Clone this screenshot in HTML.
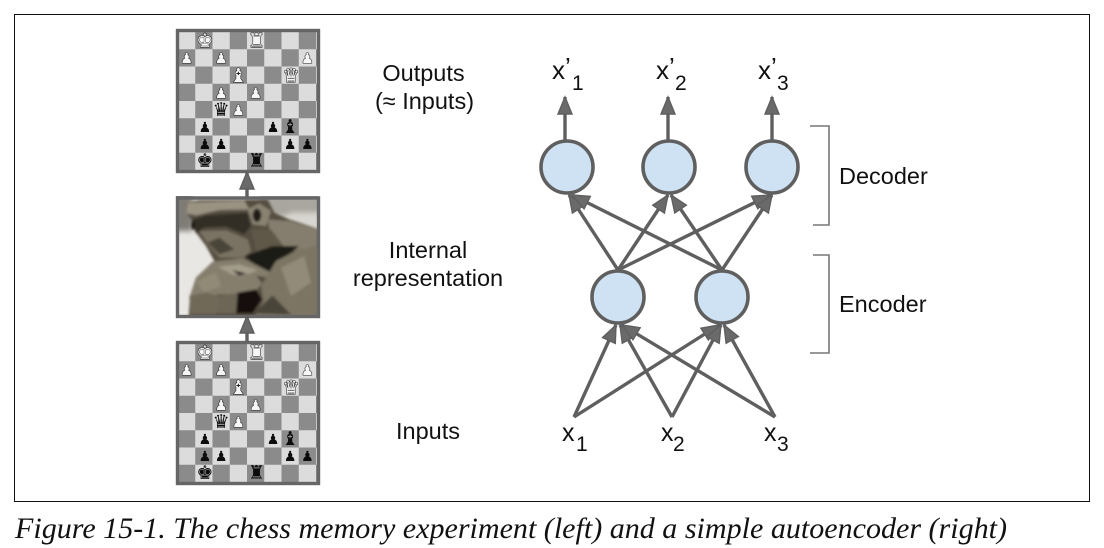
<!DOCTYPE html>
<html><head><meta charset="utf-8"><style>
html,body{margin:0;padding:0;background:#fff;width:1104px;height:548px;overflow:hidden}
svg{display:block}
.l{font-family:"Liberation Sans",sans-serif;font-size:23.5px;fill:#111}
.m{font-family:"Liberation Sans",sans-serif;font-size:26px;fill:#111}
.i{font-family:"Liberation Sans",sans-serif;font-size:25px;fill:#111}
.s{font-family:"Liberation Sans",sans-serif;font-size:21px;fill:#111}
.w,.W,.b,.B{font-family:"DejaVu Sans",sans-serif;text-anchor:middle}
.w,.W{fill:#f6f6f6;stroke:#222;stroke-width:1.1px;paint-order:stroke}
.b,.B{fill:#0c0c0c}
.w,.b{font-size:14px}
.W,.B{font-size:19px}
.a{stroke:#5f5f5f;stroke-width:3.4;fill:none;marker-end:url(#ah)}
.n{fill:#cfe2f3;stroke:#5f5f5f;stroke-width:3.6}
</style></head><body>
<svg width="1104" height="548" viewBox="0 0 1104 548" xmlns="http://www.w3.org/2000/svg">
<defs>
<marker id="ah" markerUnits="userSpaceOnUse" markerWidth="20" markerHeight="18" refX="18" refY="9" orient="auto"><path d="M1,2L18,9L1,16Z" fill="#6a6a6a" stroke="#5f5f5f" stroke-width="1.4"/></marker>
<pattern id="cb" patternUnits="userSpaceOnUse" x="178" y="32" width="34.5" height="34.5"><rect width="34.5" height="34.5" fill="#dcdcdc"/><rect x="17.25" width="17.25" height="17.25" fill="#8b8b8b"/><rect y="17.25" width="17.25" height="17.25" fill="#8b8b8b"/></pattern>
<pattern id="cb2" patternUnits="userSpaceOnUse" x="178" y="344" width="34.5" height="34.5"><rect width="34.5" height="34.5" fill="#dcdcdc"/><rect x="17.25" width="17.25" height="17.25" fill="#8b8b8b"/><rect y="17.25" width="17.25" height="17.25" fill="#8b8b8b"/></pattern>
<clipPath id="ic"><rect x="0" y="0" width="429" height="362"/></clipPath>
<filter id="bl" x="-5%" y="-5%" width="110%" height="110%"><feGaussianBlur stdDeviation="4"/></filter>
<filter id="bl2" x="-20%" y="-20%" width="140%" height="140%"><feGaussianBlur stdDeviation="8"/></filter>
</defs>
<rect x="14.5" y="14.5" width="1075" height="487" fill="#fff" stroke="#111" stroke-width="1"/>

<!-- top board -->
<rect x="177.5" y="30.5" width="141" height="141" fill="url(#cb)" stroke="#666" stroke-width="3.4"/>
<g>
<text class="W" x="204.9" y="47">♚</text><text class="W" x="256.6" y="47">♜</text>
<text class="w" x="186.6" y="63">♟</text><text class="w" x="221.1" y="63">♟</text><text class="w" x="307.4" y="63">♟</text>
<text class="W" x="238.4" y="82">♝</text><text class="W" x="291" y="82">♛</text>
<text class="w" x="221.1" y="98">♟</text><text class="w" x="255.6" y="98">♟</text>
<text class="B" x="221.1" y="116">♛</text><text class="w" x="238.4" y="115">♟</text>
<text class="b" x="204.9" y="132">♟</text><text class="b" x="273" y="132">♟</text><text class="B" x="290.1" y="133">♝</text>
<text class="b" x="204.9" y="149">♟</text><text class="b" x="221.1" y="149">♟</text><text class="b" x="290.1" y="149">♟</text><text class="b" x="307.4" y="149">♟</text>
<text class="B" x="204.9" y="167">♚</text><text class="B" x="256.6" y="167">♜</text>
</g>

<!-- bottom board -->
<rect x="177.5" y="342.5" width="141" height="141" fill="url(#cb2)" stroke="#666" stroke-width="3.4"/>
<g>
<text class="W" x="204.9" y="359">♚</text><text class="W" x="256.6" y="359">♜</text>
<text class="w" x="186.6" y="375">♟</text><text class="w" x="221.1" y="375">♟</text><text class="w" x="307.4" y="375">♟</text>
<text class="W" x="238.4" y="394">♝</text><text class="W" x="291" y="394">♛</text>
<text class="w" x="221.1" y="410">♟</text><text class="w" x="255.6" y="410">♟</text>
<text class="B" x="221.1" y="428">♛</text><text class="w" x="238.4" y="427">♟</text>
<text class="b" x="204.9" y="444">♟</text><text class="b" x="273" y="444">♟</text><text class="B" x="290.1" y="445">♝</text>
<text class="b" x="204.9" y="461">♟</text><text class="b" x="221.1" y="461">♟</text><text class="b" x="290.1" y="461">♟</text><text class="b" x="307.4" y="461">♟</text>
<text class="B" x="204.9" y="479">♚</text><text class="B" x="256.6" y="479">♜</text>
</g>

<!-- statue photograph approximation -->
<g transform="translate(176,196) scale(.33333)">
<g clip-path="url(#ic)">
<rect width="429" height="362" fill="#e9e7e3"/>
<g filter="url(#bl2)">
<rect x="-20" y="-20" width="70" height="125" fill="#7f7c76"/>
<rect x="250" y="-20" width="190" height="80" fill="#a9a69f"/>
<rect x="340" y="50" width="100" height="50" fill="#d8d6d0"/>
</g>
<g filter="url(#bl)">
<path d="M45,70L30,50L32,20L70,12L275,10L295,50L340,70L430,100V370H38L42,300L60,245L115,195L90,150L62,112Z" fill="#544d40"/>
<path d="M30,52L34,20L205,14L220,40L130,42L60,58Z" fill="#9a9382"/>
<path d="M45,72L90,58L215,50L225,90L205,115L150,92L85,95L60,112Z" fill="#332e25"/>
<path d="M70,105L150,103L215,130L225,165L205,185L130,185L100,150Z" fill="#7a7363"/>
<path d="M95,140L130,125L175,160L130,175Z" fill="#4a4438"/>
<path d="M215,40L250,22L285,45L270,90L230,85Z" fill="#8a8372"/>
<ellipse cx="243" cy="58" rx="13" ry="20" fill="#211d17"/>
<path d="M275,70L340,75L425,100L425,150L350,165L285,130Z" fill="#857e6e"/>
<path d="M225,100L285,100L330,160L240,165Z" fill="#5f5848"/>
<path d="M205,180L290,150L370,150L300,205L275,235L230,200Z" fill="#1f1c16"/>
<path d="M110,197L200,187L282,228L275,245L240,238L258,262L232,295L130,295L90,300L55,345L42,300L60,245Z" fill="#857e6d"/>
<path d="M130,300L200,288L185,352H118Z" fill="#6d6656"/>
<path d="M185,290L240,280L258,310L230,352H180Z" fill="#14110d"/>
<path d="M40,300L90,290L130,300L120,355H45Z" fill="#706958"/>
<path d="M255,270L300,195L370,160L430,150V370H232L262,315Z" fill="#7c7564"/>
<path d="M232,352L290,298L345,356Z" fill="#4a4537"/>
<path d="M125,212L190,205L245,222L222,232L170,237Z" fill="#a39c8a"/>
<path d="M168,222L210,232L190,238Z" fill="#1f1c16"/>
<path d="M315,215L385,180L405,260L345,300Z" fill="#928b79"/>
<path d="M60,258L120,228L135,270L85,290Z" fill="#918a77"/>
<path d="M46,80L55,78L54,102L47,98Z" fill="#0a0806"/>
</g>
</g>
</g>
<rect x="177.5" y="198" width="141" height="118.5" fill="none" stroke="#666" stroke-width="3.4"/>

<!-- left arrows -->
<line class="a" x1="247" y1="197" x2="247" y2="172"/>
<line class="a" x1="247" y1="342" x2="247" y2="316"/>

<!-- left labels -->
<text class="l" x="423.5" y="81" text-anchor="middle">Outputs</text>
<text class="l" x="424.5" y="109" text-anchor="middle">(≈ Inputs)</text>
<text class="l" x="428" y="258" text-anchor="middle">Internal</text>
<text class="l" x="428" y="286" text-anchor="middle">representation</text>
<text class="l" x="428" y="439" text-anchor="middle">Inputs</text>

<!-- network edges -->
<line class="a" x1="565" y1="142" x2="565" y2="97"/>
<line class="a" x1="668" y1="142" x2="668" y2="97"/>
<line class="a" x1="772" y1="142" x2="772" y2="97"/>
<line class="a" x1="618" y1="270" x2="569" y2="195"/>
<line class="a" x1="618" y1="270" x2="668" y2="195"/>
<line class="a" x1="618" y1="270" x2="770" y2="195"/>
<line class="a" x1="722" y1="270" x2="572" y2="195"/>
<line class="a" x1="722" y1="270" x2="671" y2="195"/>
<line class="a" x1="722" y1="270" x2="772" y2="195"/>
<line class="a" x1="574" y1="417" x2="616" y2="325"/>
<line class="a" x1="672" y1="417" x2="620" y2="325"/>
<line class="a" x1="775" y1="417" x2="622" y2="325"/>
<line class="a" x1="574" y1="417" x2="719" y2="325"/>
<line class="a" x1="672" y1="417" x2="721" y2="325"/>
<line class="a" x1="775" y1="417" x2="724" y2="325"/>

<!-- nodes -->
<circle class="n" cx="567" cy="167" r="26"/>
<circle class="n" cx="669" cy="167" r="26"/>
<circle class="n" cx="772" cy="167" r="26"/>
<circle class="n" cx="618" cy="297" r="26"/>
<circle class="n" cx="722" cy="297" r="26"/>

<!-- node labels -->
<text class="m" x="552" y="79">x<tspan dy="-3">’</tspan></text><text class="s" x="572" y="90">1</text>
<text class="m" x="656" y="79">x<tspan dy="-3">’</tspan></text><text class="s" x="675" y="90">2</text>
<text class="m" x="758" y="79">x<tspan dy="-3">’</tspan></text><text class="s" x="777" y="90">3</text>
<text class="i" x="562" y="441">x</text><text class="s" x="576" y="451">1</text>
<text class="i" x="661" y="441">x</text><text class="s" x="673" y="451">2</text>
<text class="i" x="764" y="441">x</text><text class="s" x="777" y="451">3</text>

<!-- brackets -->
<path d="M810,126H829V225H813" fill="none" stroke="#777" stroke-width="1.6"/>
<path d="M813,255H829V353H810" fill="none" stroke="#777" stroke-width="1.6"/>
<text class="l" x="839" y="184">Decoder</text>
<text class="l" x="839" y="312">Encoder</text>

<!-- caption -->
<text x="15" y="538" font-family="'Liberation Serif',serif" font-style="italic" font-size="30" fill="#111" textLength="992" lengthAdjust="spacingAndGlyphs">Figure 15-1. The chess memory experiment (left) and a simple autoencoder (right)</text>
</svg>
</body></html>
